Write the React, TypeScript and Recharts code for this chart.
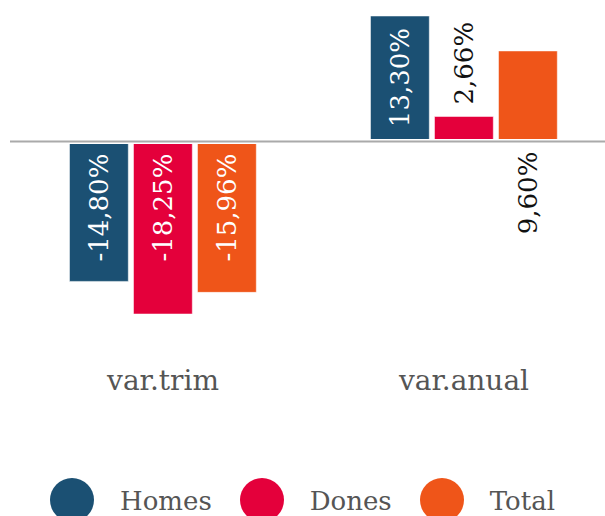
import { BarChart, Bar, XAxis, YAxis, ReferenceLine, Legend, LabelList } from 'recharts';

const categories = ['var.trim', 'var.anual'];
const homes = [-14.8, 13.3];
const dones = [-18.25, 2.66];
const total = [-15.96, 9.6];

const seriesKeys = ['homes', 'dones', 'total'];
const seriesNames = ['Homes', 'Dones', 'Total'];
const seriesColors = ['#1b5073', '#e4003b', '#ef5519'];

const data = categories.map((name, i) => ({
  name,
  homes: homes[i],
  dones: dones[i],
  total: total[i],
}));

const FONT = '"DejaVu Serif", serif';
const LABEL_SIZE = 26;
const MARGIN_TOP = 16;
const PAD = 12;

// rough DejaVu Serif advance widths, in em
const charW: Record<string, number> = { ',': 0.318, '%': 0.95, '-': 0.338 };
const textWidth = (s: string) =>
  s.split('').reduce((w, c) => w + (charW[c] ?? 0.636), 0) * LABEL_SIZE;

const fmt = (v: number) => v.toFixed(2).replace('.', ',') + '%';

const BarLabel = (props: any) => {
  const { x, y, width, height, value } = props;
  if (value == null) return null;
  const top = Math.min(y, y + height);
  const bottom = Math.max(y, y + height);
  const text = fmt(Number(value));
  const len = textWidth(text);
  const cx = x + width / 2;

  let ay = top + PAD;
  let anchor = 'end';
  let fill = '#fff';
  if (len + 2 * PAD > bottom - top) {
    fill = '#111';
    if (value > 0 && top - MARGIN_TOP > len + PAD) {
      ay = top - PAD;
      anchor = 'start';
    } else {
      ay = (value > 0 ? bottom : top) + PAD - 2;
      anchor = 'end';
    }
  }
  return (
    <text
      x={cx}
      y={ay}
      transform={`rotate(-90, ${cx}, ${ay})`}
      textAnchor={anchor}
      dominantBaseline="central"
      fill={fill}
      fontFamily={FONT}
      fontSize={LABEL_SIZE}
    >
      {text}
    </text>
  );
};

const CategoryTick = (props: any) => {
  const { x, y, payload } = props;
  return (
    <text x={x} y={y} textAnchor="middle" fill="#555" fontFamily={FONT} fontSize={28}>
      {payload.value}
    </text>
  );
};

const LegendContent = () => (
  <div
    style={{
      height: 50,
      display: 'flex',
      justifyContent: 'center',
      alignItems: 'flex-start',
      fontFamily: FONT,
      fontSize: 26,
      color: '#555',
    }}
  >
    {seriesNames.map((name, i) => (
      <div key={name} style={{ display: 'flex', alignItems: 'flex-start', marginLeft: i ? 28 : 0 }}>
        <span
          style={{
            display: 'inline-block',
            width: 44,
            height: 44,
            marginTop: 12,
            borderRadius: '50%',
            background: seriesColors[i],
          }}
        />
        <span style={{ marginLeft: 26, marginTop: 22, lineHeight: '26px' }}>{name}</span>
      </div>
    ))}
  </div>
);

export default function App() {
  return (
    <div style={{ position: 'absolute', left: 0, top: 0, width: 605, height: 516, overflow: 'hidden', background: '#fff' }}>
      <BarChart
        width={605}
        height={516}
        data={data}
        margin={{ top: MARGIN_TOP, right: -12, bottom: 0, left: 10 }}
        barSize={58.8}
        barGap={5.2}
      >
        <XAxis
          dataKey="name"
          axisLine={false}
          tickLine={false}
          tickSize={0}
          tickMargin={76}
          height={152}
          interval={0}
          padding={{ left: 2.5, right: 2.5 }}
          tick={<CategoryTick />}
        />
        <YAxis hide domain={['dataMin', 'dataMax']} />
        {seriesKeys.map((key, i) => (
          <Bar
            key={key}
            dataKey={key}
            name={seriesNames[i]}
            fill={seriesColors[i]}
            stroke="rgba(255,255,255,0.5)"
            strokeWidth={1}
            isAnimationActive={false}
          >
            <LabelList dataKey={key} content={<BarLabel />} />
          </Bar>
        ))}
        <ReferenceLine y={0} stroke="#fff" strokeWidth={5} />
        <ReferenceLine y={0} stroke="#aaa" strokeWidth={2} />
        <Legend
          verticalAlign="bottom"
          content={<LegendContent />}
          wrapperStyle={{ left: 0, width: 605 }}
        />
      </BarChart>
    </div>
  );
}
